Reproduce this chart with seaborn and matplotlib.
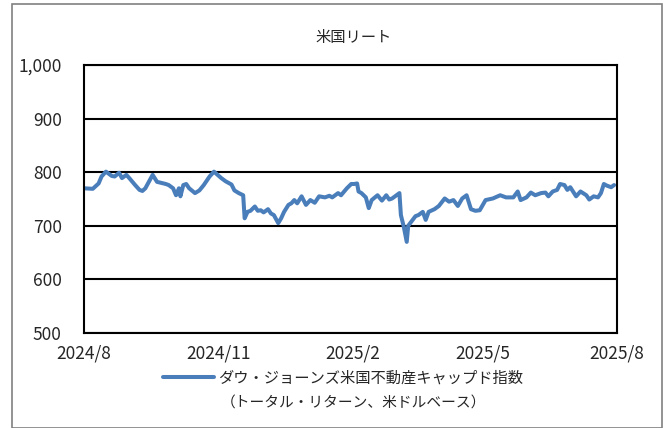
import pandas as pd
import seaborn as sns
import matplotlib.pyplot as plt
from matplotlib.patches import Rectangle

# US REIT index
dates = ['2024-08-01', '2024-08-07', '2024-08-11', '2024-08-13', '2024-08-16', '2024-08-20',
         '2024-08-22', '2024-08-25', '2024-08-27', '2024-08-30', '2024-09-01', '2024-09-05',
         '2024-09-08', '2024-09-10', '2024-09-12', '2024-09-15', '2024-09-17', '2024-09-20',
         '2024-09-23', '2024-09-26', '2024-09-28', '2024-10-01', '2024-10-03', '2024-10-05',
         '2024-10-06', '2024-10-08', '2024-10-10', '2024-10-12', '2024-10-16', '2024-10-19',
         '2024-10-22', '2024-10-26', '2024-10-29', '2024-11-03', '2024-11-06', '2024-11-10',
         '2024-11-12', '2024-11-15', '2024-11-18', '2024-11-19', '2024-11-21', '2024-11-23',
         '2024-11-26', '2024-11-28', '2024-11-30', '2024-12-02', '2024-12-05', '2024-12-07',
         '2024-12-09', '2024-12-12', '2024-12-14', '2024-12-16', '2024-12-19', '2024-12-21',
         '2024-12-23', '2024-12-25', '2024-12-28', '2024-12-31', '2025-01-03', '2025-01-06',
         '2025-01-09', '2025-01-13', '2025-01-16', '2025-01-18', '2025-01-22', '2025-01-24',
         '2025-01-28', '2025-01-31', '2025-02-02', '2025-02-04', '2025-02-05', '2025-02-07',
         '2025-02-10', '2025-02-12', '2025-02-14', '2025-02-18', '2025-02-21', '2025-02-24',
         '2025-02-26', '2025-02-28', '2025-03-05', '2025-03-06', '2025-03-08', '2025-03-10',
         '2025-03-11', '2025-03-14', '2025-03-16', '2025-03-18', '2025-03-21', '2025-03-23',
         '2025-03-25', '2025-03-29', '2025-04-01', '2025-04-05', '2025-04-08', '2025-04-11',
         '2025-04-14', '2025-04-17', '2025-04-20', '2025-04-23', '2025-04-26', '2025-04-29',
         '2025-05-03', '2025-05-08', '2025-05-13', '2025-05-17', '2025-05-22', '2025-05-25',
         '2025-05-27', '2025-05-31', '2025-06-03', '2025-06-06', '2025-06-10', '2025-06-13',
         '2025-06-15', '2025-06-18', '2025-06-21', '2025-06-23', '2025-06-26', '2025-06-28',
         '2025-06-30', '2025-07-04', '2025-07-07', '2025-07-11', '2025-07-13', '2025-07-16',
         '2025-07-19', '2025-07-21', '2025-07-23', '2025-07-25', '2025-07-28', '2025-07-30']
values = [770, 769, 779, 792, 801, 793,
          792, 799, 789, 795, 789, 776,
          767, 765, 770, 785, 795, 782,
          780, 778, 776, 770, 757, 770,
          755, 776, 778, 770, 761, 766,
          776, 792, 801, 789, 783, 777,
          766, 761, 757, 714, 726, 728,
          736, 728, 729, 725, 731, 723,
          720, 705, 714, 726, 739, 742,
          748, 742, 755, 739, 748, 743,
          755, 753, 756, 753, 761, 757,
          770, 778, 778, 779, 764, 761,
          753, 733, 748, 757, 747, 757,
          749, 751, 761, 720, 698, 670,
          700, 711, 718, 720, 726, 711,
          726, 731, 737, 751, 745, 748,
          737, 751, 757, 731, 728, 729,
          748, 751, 757, 753, 753, 764,
          748, 753, 762, 757, 761, 762,
          755, 764, 767, 778, 776, 767,
          772, 755, 764, 757, 749, 755,
          753, 761, 778, 775, 772, 776]

series_label = 'ダウ・ジョーンズ米国不動産キャップド指数'
series_note = '（トータル・リターン、米ドルベース）'
title = '米国リート'
x_ticks = ['2024-08-01', '2024-11-01', '2025-02-01', '2025-05-01', '2025-08-01']
x_tick_labels = ['2024/8', '2024/11', '2025/2', '2025/5', '2025/8']
y_ticks = [500, 600, 700, 800, 900, 1000]
y_tick_labels = ['500', '600', '700', '800', '900', '1,000']

df = pd.DataFrame({'date': pd.to_datetime(dates), 'value': values})

sns.set_style("white")
plt.rcParams['font.family'] = ['Noto Sans CJK JP', 'DejaVu Sans']

fig = plt.figure(figsize=(6.7, 4.28), dpi=100)
ax = fig.add_axes([0.1254, 0.222, 0.7955, 0.6261])

sns.lineplot(data=df, x='date', y='value', ax=ax, color='#4a7ebb', linewidth=2.9,
             label=series_label)

ax.set_xlim(pd.Timestamp(x_ticks[0]), pd.Timestamp(x_ticks[-1]))
ax.set_ylim(500, 1000)
ax.set_xticks(pd.to_datetime(x_ticks))
ax.set_xticklabels(x_tick_labels)
ax.set_yticks(y_ticks)
ax.set_yticklabels(y_tick_labels)
ax.set_xlabel('')
ax.set_ylabel('')
ax.grid(axis='y', color='black', linewidth=1.5)
ax.tick_params(axis='x', direction='in', length=5, width=1.2, color='black', pad=8, labelsize=12.5)
ax.tick_params(axis='y', length=0, pad=16, labelsize=12.5)
for s in ax.spines.values():
    s.set_color('black')
    s.set_linewidth(1.5)

fig.text(0.528, 0.912, title, ha='center', va='center', fontsize=11)

ax.legend(loc='upper left', bbox_to_anchor=(0.244, 0.137), bbox_transform=fig.transFigure,
          frameon=False, handlelength=3.3, handletextpad=0.3, borderpad=0, borderaxespad=0,
          fontsize=11)
fig.text(0.33, 0.056, series_note, ha='left', va='center', fontsize=10.6)

# outer frame of the chart area
fig.patches.append(Rectangle((12 / 670, 0.0), 650 / 670, 1 - 4 / 428, transform=fig.transFigure,
                             fill=False, edgecolor='#808080', linewidth=1.2))

fig.savefig('out.png', dpi=100)
